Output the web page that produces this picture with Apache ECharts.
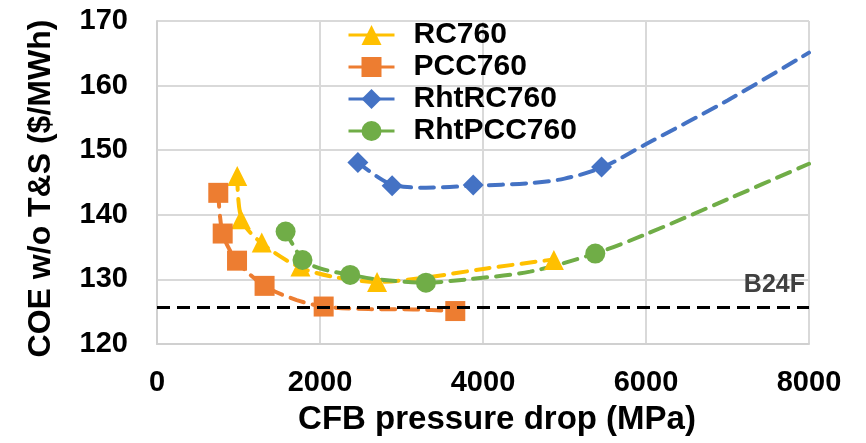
<!DOCTYPE html>
<html>
<head>
<meta charset="utf-8">
<script src="https://cdn.jsdelivr.net/npm/echarts@6/dist/echarts.min.js"></script>
<style>html,body{margin:0;padding:0;background:#fff;}#c{width:866px;height:443px;}</style>
</head>
<body>
<div id="c"></div>
<script>
// ---- data ----
var seriesNames = ['RC760', 'PCC760', 'RhtRC760', 'RhtPCC760'];

// marker points
var rcX = [985, 1030, 1285, 1760, 2700, 4870];
var rcY = [146.0, 139.3, 135.7, 132.0, 129.6, 133.0];
var pccX = [752, 806, 982, 1320, 2045, 3660];
var pccY = [143.4, 137.1, 132.9, 129.0, 125.8, 125.1];
var rhtRcX = [2465, 2885, 3880, 5455];
var rhtRcY = [148.1, 144.5, 144.6, 147.4];
var rhtPccX = [1578, 1785, 2370, 3300, 5378];
var rhtPccY = [137.4, 133.0, 130.7, 129.5, 134.0];

// dashed trend curves (traced points)
var rcTrendX = [985, 1040, 1285, 1746, 2163, 2700, 3300, 4045, 4870];
var rcTrendY = [146.0, 139.2, 135.6, 131.9, 130.4, 129.6, 130.3, 131.7, 133.1];
var pccTrendX = [752, 806, 978, 1317, 1714, 2049, 2600, 3145, 3660];
var pccTrendY = [143.4, 137.1, 132.9, 129.0, 126.8, 125.8, 125.4, 125.35, 125.1];
var rhtRcTrendX = [2465, 2859, 3300, 3881, 4577, 5000, 5456, 6008, 7000, 8000];
var rhtRcTrendY = [148.1, 144.8, 144.2, 144.5, 144.9, 145.6, 147.3, 151.0, 157.7, 165.1];
var rhtPccTrendX = [1578, 1788, 2000, 2377, 2700, 3301, 3800, 4577, 5374, 6000, 7000, 8000];
var rhtPccTrendY = [137.4, 133.1, 131.7, 130.7, 130.0, 129.5, 130.0, 131.2, 134.0, 137.0, 142.4, 147.9];

var b24fValue = 125.7;
var b24fLabel = 'B24F';

var xAxisName = 'CFB pressure drop (MPa)';
var yAxisName = 'COE w/o T&S ($/MWh)';

// ---- build chart ----
function zip(xs, ys) { return xs.map(function (x, i) { return [x, ys[i]]; }); }

var colors = ['#FFC000', '#ED7D31', '#4472C4', '#70AD47'];
var symbols = ['triangle', 'rect', 'diamond', 'circle'];
var symbolSizes = [20, 20, 21, 20];
var markerData = [zip(rcX, rcY), zip(pccX, pccY), zip(rhtRcX, rhtRcY), zip(rhtPccX, rhtPccY)];
var trendData = [zip(rcTrendX, rcTrendY), zip(pccTrendX, pccTrendY), zip(rhtRcTrendX, rhtRcTrendY), zip(rhtPccTrendX, rhtPccTrendY)];

var FONT = 'Liberation Sans, Arial, sans-serif';
var series = [];
seriesNames.forEach(function (name, i) {
  series.push({
    name: name, type: 'line', data: markerData[i], z: 3,
    symbol: symbols[i], symbolSize: symbolSizes[i],
    itemStyle: { color: colors[i] },
    lineStyle: { width: 0, color: colors[i] },
    emphasis: { disabled: true }, animation: false
  });
  series.push({
    name: name, type: 'line', data: trendData[i], z: 2,
    symbol: 'none', smooth: 0.3,
    lineStyle: { width: 4, type: [14, 9], cap: 'round', color: colors[i] },
    itemStyle: { color: colors[i] },
    emphasis: { disabled: true }, animation: false
  });
});
series.push({
  name: b24fLabel, type: 'line', data: [], z: 4, animation: false,
  markLine: {
    silent: true, symbol: ['none', 'none'], animation: false,
    lineStyle: { color: '#000', width: 3, type: [13, 7] },
    label: { show: true, position: 'insideEndTop', formatter: b24fLabel, distance: 10, offset: [6, 0],
      color: '#404040', fontSize: 25, fontWeight: 'bold', fontFamily: FONT },
    data: [{ yAxis: b24fValue }]
  }
});

var chart = echarts.init(document.getElementById('c'), null, { renderer: 'canvas' });
chart.setOption({
  animation: false,
  backgroundColor: '#fff',
  grid: { left: 157, right: 57, top: 21, bottom: 99, containLabel: false },
  legend: {
    data: seriesNames, orient: 'vertical', left: 347, top: 20, padding: 0,
    itemWidth: 46, itemHeight: 25, itemGap: 2,
    lineStyle: { type: 'solid', width: 3 },
    textStyle: { fontSize: 30, fontWeight: 'bold', color: '#000', fontFamily: FONT, lineHeight: 30, padding: [0, 0, 0, 14] },
    selectedMode: false
  },
  xAxis: {
    type: 'value', min: 0, max: 8000, interval: 2000,
    name: xAxisName, nameLocation: 'middle', nameGap: 59,
    nameTextStyle: { fontSize: 33, fontWeight: 'bold', color: '#000', fontFamily: FONT, padding: [0, 0, 0, 28] },
    axisLine: { show: true, lineStyle: { color: '#d0d0d0', width: 2 } },
    axisTick: { show: false },
    axisLabel: { fontSize: 29, fontWeight: 'bold', color: '#000', fontFamily: FONT, margin: 24,
      formatter: function (v) { return String(v); } },
    splitLine: { show: true, lineStyle: { color: '#d9d9d9', width: 2 } }
  },
  yAxis: {
    type: 'value', min: 120, max: 170, interval: 10,
    name: yAxisName, nameLocation: 'middle', nameGap: 100, nameRotate: 90,
    nameTextStyle: { fontSize: 32, fontWeight: 'bold', color: '#000', fontFamily: FONT, padding: [0, 12, 0, 0] },
    axisLine: { show: true, lineStyle: { color: '#d0d0d0', width: 2 } },
    axisTick: { show: false },
    axisLabel: { fontSize: 29, fontWeight: 'bold', color: '#000', fontFamily: FONT, margin: 29,
      formatter: function (v) { return String(v); } },
    splitLine: { show: true, lineStyle: { color: '#d9d9d9', width: 2 } }
  },
  series: series
});
</script>
</body>
</html>
